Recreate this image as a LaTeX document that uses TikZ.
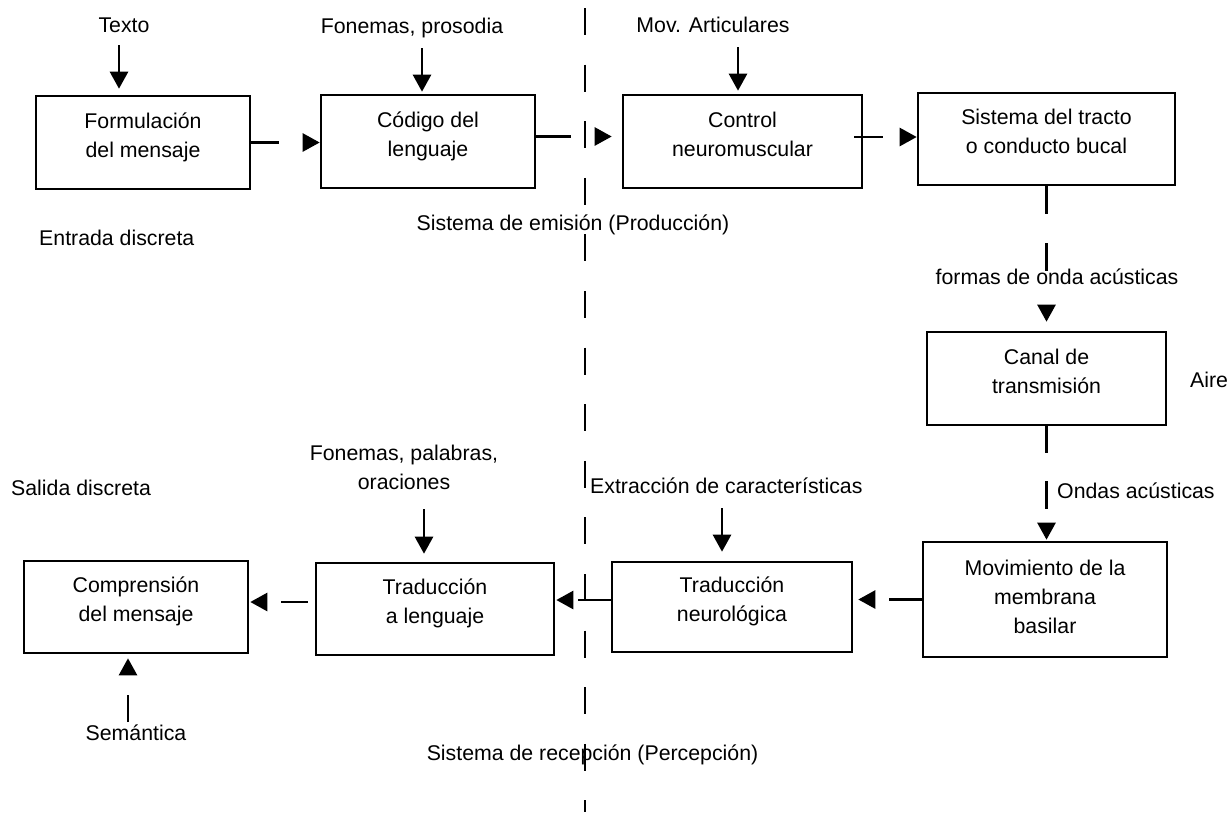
\documentclass[tikz,border=0pt]{standalone}
\usepackage{fontspec}
\setmainfont{Liberation Sans}
\usetikzlibrary{arrows.meta}
\newcommand{\mylines}[1]{\begin{tabular}[t]{@{}c@{}}#1\end{tabular}}
\begin{document}
\begin{tikzpicture}[x=1pt,y=-1pt,
  every node/.append style={font=\fontsize{21.3}{29}\selectfont},
  blk/.style={draw, line width=2.6pt, inner sep=0pt, text height=0pt, text depth=29pt},
  txt/.style={inner sep=0pt, anchor=base},
  conn/.style={line width=2.6pt, -{Triangle[length=17pt,width=18pt]}},
  sepline/.style={line width=2.6pt, dash pattern=on 27pt off 29.6pt}]
\fill[white] (0,0) rectangle (1230,812);
\useasboundingbox (0,0) rectangle (1230,812);

% separator
\coordinate (sepT) at (585,8);
\coordinate (sepB) at (585,812);
\draw[sepline] (sepT) -- (sepB);

% boxes
\node[blk, minimum width=214pt, minimum height=93pt] (b1) at (143,142.5) {\mylines{Formulación\\del mensaje}};
\node[blk, minimum width=214pt, minimum height=93pt] (b2) at (428,141.5) {\mylines{Código del\\lenguaje}};
\node[blk, minimum width=239pt, minimum height=93pt] (b3) at (742.5,141.5) {\mylines{Control\\neuromuscular}};
\node[blk, minimum width=257pt, minimum height=92pt] (b4) at (1046.5,139) {\mylines{Sistema del tracto\\o conducto bucal}};
\node[blk, minimum width=239pt, minimum height=93pt] (canal) at (1046.5,378.5) {\mylines{Canal de\\transmisión}};
\node[blk, minimum width=244pt, minimum height=115pt, text depth=49pt] (mov) at (1045,599.5) {\mylines{Movimiento de la\\membrana\\basilar}};
\node[blk, minimum width=240pt, minimum height=90pt] (tn) at (732,607) {\mylines{Traducción\\neurológica}};
\node[blk, minimum width=238pt, minimum height=92pt] (tl) at (435,609) {\mylines{Traducción\\a lenguaje}};
\node[blk, minimum width=224pt, minimum height=92pt] (comp) at (136,607) {\mylines{Comprensión\\del mensaje}};

% labels
\node[txt] (texto) at (124,32) {Texto};
\node[txt] (fonpros) at (412,33) {Fonemas, prosodia};
\node[txt] (movart) at (713,32) {Mov. Articulares};
\node[txt] (emision) at (573,230) {Sistema de emisión (Producción)};
\node[txt, anchor=base west] (entrada) at (39,245) {Entrada discreta};
\node[txt] (formas) at (1057,284) {formas de onda acústicas};
\node[txt, anchor=base west] (aire) at (1190,387) {Aire};
\node[txt, anchor=base west] (ondas) at (1057,498) {Ondas acústicas};
\node[txt, anchor=base west] (salida) at (11,495) {Salida discreta};
\node[txt] (fonpal) at (404,460) {\mylines{Fonemas, palabras,\\oraciones}};
\node[txt, anchor=base west] (extr) at (590,493) {Extracción de características};
\node[txt] (sem) at (136,740) {Semántica};
\node[txt] (recep) at (592.5,760) {Sistema de recepción (Percepción)};

% input arrows
\coordinate (ta) at (119,45);
\draw[conn, shorten >=6pt] (ta) -- (ta |- b1.north);
\coordinate (tb) at (422,48);
\draw[conn, shorten >=2pt] (tb) -- (tb |- b2.north);
\coordinate (tc) at (738,47);
\draw[conn, shorten >=3pt] (tc) -- (tc |- b3.north);
\coordinate (td) at (424,509);
\draw[conn, shorten >=8pt] (td) -- (td |- tl.north);
\coordinate (te) at (722,508);
\draw[conn, shorten >=9pt] (te) -- (te |- tn.north);
\coordinate (cs) at (128,722);
\draw[conn, dash pattern=on 27pt off 40pt, shorten >=4pt] (cs) -- (cs |- comp.south);

% chain connectors
\draw[conn, dash pattern=on 28pt off 27pt] (b1.east) -- (b1.east -| b2.west);
\coordinate (c23) at ([yshift=5pt]b2.east);
\draw[conn, dash pattern=on 35pt off 30pt, shorten >=10pt] (c23) -- (c23 -| b3.west);
\coordinate (c34) at ([xshift=-9pt,yshift=4.5pt]b3.east);
\draw[conn, dash pattern=on 29pt off 30pt] (c34) -- (c34 -| b4.west);
\draw[conn, dash pattern=on 28pt off 29pt on 28pt off 60pt, shorten >=9pt] (b4.south) -- (b4.south |- canal.north);
\draw[conn, dash pattern=on 27pt off 28pt on 28pt off 60pt, shorten >=1pt] (canal.south) -- (canal.south |- mov.north);
\draw[conn, dash pattern=on 33pt off 40pt, shorten >=5pt] (mov.west) -- (mov.west -| tn.east);
\coordinate (c67) at ([yshift=7pt]tn.west);
\draw[conn, dash pattern=on 33pt off 40pt, shorten >=1pt] (c67) -- (c67 -| tl.east);
\coordinate (c78) at ([xshift=-7pt,yshift=7pt]tl.west);
\draw[conn, dash pattern=on 27pt off 40pt, shorten >=1pt] (c78) -- (c78 -| comp.east);
\end{tikzpicture}
\end{document}
